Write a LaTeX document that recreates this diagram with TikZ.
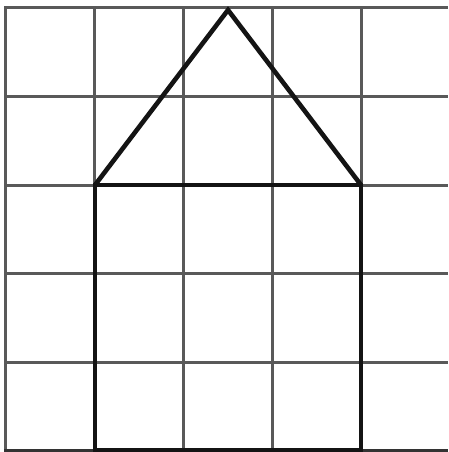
\documentclass[tikz,border=0pt]{standalone}
\begin{document}
\begin{tikzpicture}[x=1pt,y=-1pt,
  gridline/.style={draw=black!65, line width=3pt},
  houseline/.style={draw=black!92, line width=4.6pt, line join=miter}]
\useasboundingbox (0,0) rectangle (448,452);
\fill[white] (0,0) rectangle (448,452);
\foreach \x in {5,94,183,272,361} {\draw[gridline] (\x,7) -- (\x,452);}
\foreach \y in {8,96,185,273,362} {\draw[gridline] (4,\y) -- (448,\y);}
\draw[gridline, draw=black!80] (4,450.5) -- (448,450.5);
\coordinate (bl) at (95,450);
\coordinate (br) at (361,450);
\coordinate (tr) at (361,185);
\coordinate (tl) at (95,185);
\coordinate (apex) at (228,10);
\draw[houseline] (bl) -- (tl) -- (tr) -- (br) -- cycle;
\draw[houseline] (tl) -- (apex) -- (tr);
\end{tikzpicture}
\end{document}
